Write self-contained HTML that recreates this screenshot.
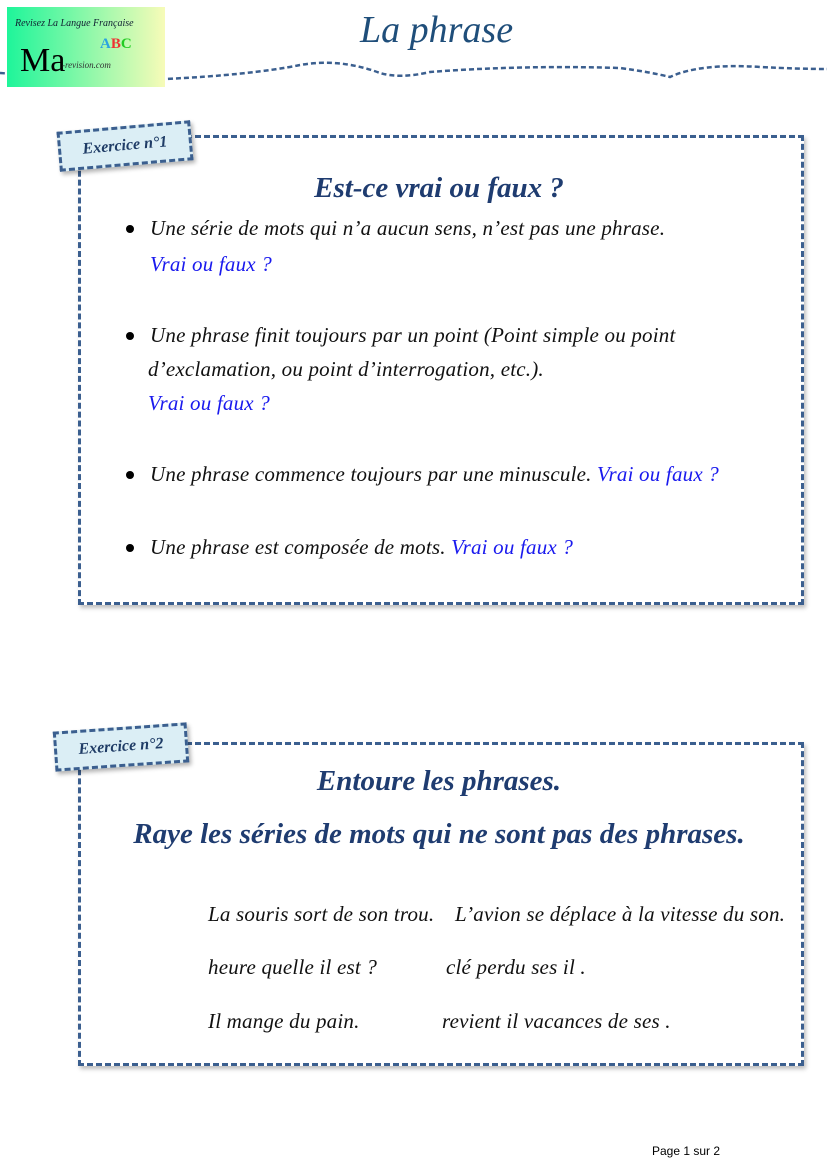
<!DOCTYPE html>
<html><head><meta charset="utf-8"><style>
body{margin:0;width:827px;height:1160px;background:#fff;position:relative;overflow:hidden;font-family:"Liberation Serif",serif}
.abs{position:absolute}
.box{position:absolute;border:3px dashed #3b5f8f;box-shadow:2px 3px 4px rgba(0,0,0,.25)}
.lab{position:absolute;background:#dbeef5;border:3px dashed #3b5f8f;font-family:"Liberation Serif",serif;font-weight:bold;font-style:italic;color:#1f3c66;font-size:16px;text-align:center;box-shadow:2px 3px 4px rgba(0,0,0,.3)}
.t{position:absolute;font-style:italic;font-size:21px;letter-spacing:0.2px;color:#111;white-space:nowrap}
.b{color:#1a1aee}
.h{position:absolute;font-style:italic;font-weight:bold;color:#1f3c70;font-size:29px;white-space:nowrap;text-align:center}
.dot{position:absolute;width:8px;height:8px;border-radius:50%;background:#000}
</style></head><body>
<svg class="abs" style="left:0;top:55px" width="827" height="35"><path d="M0 18 Q60 22 165 24 Q250 20 300 10 Q340 3 380 18 Q400 24 430 17 Q520 10 620 13 Q650 17 670 22 Q700 8 760 12 Q800 14 827 14" fill="none" stroke="#3b5f8f" stroke-width="2.5" stroke-dasharray="5 3"/></svg>
<div class="abs" style="left:7px;top:7px;width:158px;height:80px;background:linear-gradient(90deg,#1ef59a,#f7fbb8)"></div>
<div class="abs" style="left:15px;top:18px;font-size:10px;color:#123;font-style:italic">Revisez La Langue Française</div>
<div class="abs" style="left:20px;top:42px;font-size:34px;color:#000">Ma</div>
<div class="abs" style="left:62px;top:60px;font-size:9px;color:#333;font-style:italic">-revision.com</div>
<div class="abs" style="left:100px;top:36px;font-size:15px;font-weight:bold;color:#2aa3e0">A<span style="color:#e33">B</span><span style="color:#2c2">C</span></div>
<div class="abs" style="left:360px;top:8px;font-size:38px;font-style:italic;color:#1f4e7a">La phrase</div>

<div class="box" style="left:78px;top:135px;width:720px;height:464px"></div>
<div class="lab" style="left:58px;top:126px;width:128px;height:34px;line-height:34px;transform:rotate(-5deg)">Exercice n°1</div>
<div class="h" style="left:79px;top:172px;width:720px">Est-ce vrai ou faux ?</div>
<div class="dot" style="left:126px;top:225px"></div>
<div class="t" style="left:150px;top:216px">Une série de mots qui n’a aucun  sens, n’est pas une phrase.</div>
<div class="t b" style="left:150px;top:252px">Vrai ou faux ?</div>
<div class="dot" style="left:126px;top:332px"></div>
<div class="t" style="left:150px;top:323px">Une phrase finit toujours par un point (Point simple ou point</div>
<div class="t" style="left:148px;top:357px">d’exclamation,  ou point d’interrogation, etc.).</div>
<div class="t b" style="left:148px;top:391px">Vrai ou faux ?</div>
<div class="dot" style="left:126px;top:471px"></div>
<div class="t" style="left:150px;top:462px">Une phrase commence toujours par une minuscule. <span class="b">Vrai ou faux ?</span></div>
<div class="dot" style="left:126px;top:544px"></div>
<div class="t" style="left:150px;top:535px">Une phrase est composée de mots.  <span class="b">Vrai ou faux ?</span></div>

<div class="box" style="left:78px;top:742px;width:720px;height:318px"></div>
<div class="lab" style="left:54px;top:727px;width:128px;height:34px;line-height:34px;transform:rotate(-4deg)">Exercice n°2</div>
<div class="h" style="left:79px;top:765px;width:720px">Entoure les phrases.</div>
<div class="h" style="left:79px;top:818px;width:720px">Raye les séries de mots qui ne sont pas des phrases.</div>
<div class="t" style="left:208px;top:902px">La souris sort de son trou.</div>
<div class="t" style="left:455px;top:902px">L’avion se déplace à la vitesse du son.</div>
<div class="t" style="left:208px;top:955px">heure quelle il est ?</div>
<div class="t" style="left:446px;top:955px">clé perdu ses il .</div>
<div class="t" style="left:208px;top:1009px">Il mange du pain.</div>
<div class="t" style="left:442px;top:1009px">revient il vacances de ses .</div>
<div class="abs" style="left:652px;top:1144px;font-family:'Liberation Sans',sans-serif;font-size:12px;color:#000">Page 1 sur 2</div>
</body></html>
